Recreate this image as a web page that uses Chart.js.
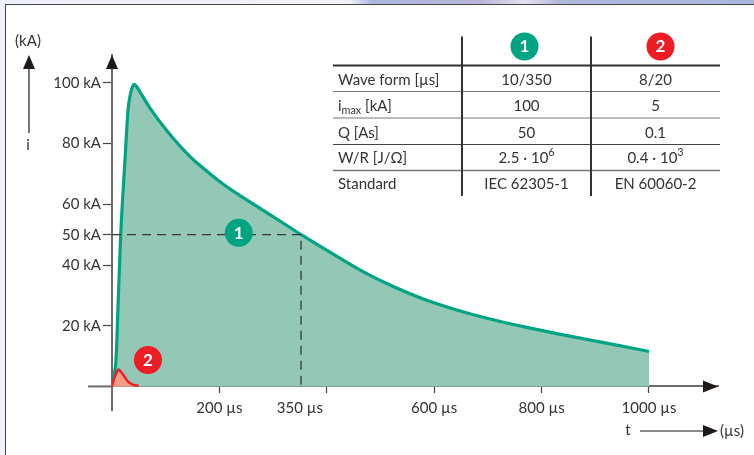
<!DOCTYPE html>
<html><head><meta charset="utf-8">
<script src="https://cdn.jsdelivr.net/npm/chart.js@4"></script>
<style>
html,body{margin:0;padding:0;width:754px;height:455px;overflow:hidden;background:#eef0fb}
#band{position:absolute;left:0;top:0;width:754px;height:5px;background:linear-gradient(to right,#eef0fb 0,#f1f1fa 350px,#aab6dc 372px,#b9b4da 480px,#e6e0f0 525px,#b0b8dc 560px,#a8b6dc 754px)}
#frame{position:absolute;left:5px;top:4px;width:749px;height:451px;background:#fff;border-left:1.5px solid #444;border-top:1.5px solid #444;box-sizing:border-box}
canvas{position:absolute;left:0;top:0}
</style></head>
<body><div id="band"></div><div id="frame"></div><canvas id="c" width="754" height="455"></canvas>
<script>
const waveform1X=[0,3.7,7.4,11.9,16.2,24.2,29.8,34.8,38.2,41.5,46.6,52.1,70.8,101.9,145.3,163.9,206.7,270,312.8,353,425,471,517.7,579.7,641.9,703.9,766,828,890,952,1000];
const waveform1Y=[0,3.8,8.7,29.8,49.9,74.6,91,96.7,98.8,99.5,98.6,97,91.7,84.3,75.7,72.8,66.7,59.3,54.5,49.9,42.2,37.5,33.4,28.8,25.2,22.2,19.7,17.4,15.3,13.2,11.5];
const waveform2X=[0,2.8,8.8,11.7,14.9,21,30.4,39.7,49.3];
const waveform2Y=[0,2.1,4.7,5.6,5.2,3.8,1.5,0.5,0.2];
const halfValueX=[0,352,352];
const halfValueY=[50,50,0];
const yTicks=[20,40,50,60,80,100];
const xTicks=[200,350,400,600,800,1000];
const xTickLabels={200:"200 µs",350:"350 µs",600:"600 µs",800:"800 µs",1000:"1000 µs"};
const badgeX=[236,67];
const badgeY=[50.6,8.7];
const badgeText=["1","2"];
const tableHead=["Wave form [µs]","i_{max} [kA]","Q [As]","W/R [J/Ω]","Standard"];
const tableCol1=["10/350","100","50","2.5 · 10^{6}","IEC 62305-1"];
const tableCol2=["8/20","5","0.1","0.4 · 10^{3}","EN 60060-2"];

const FONT='Lato, sans-serif', INK='#333333', GREEN='#00a482', RED='#ee1c25';
const toXY=(xs,ys)=>xs.map((x,i)=>({x,y:ys[i]}));

function runs(s){
  const out=[];const re=/([_^])\{([^}]*)\}/g;let m,last=0;
  while((m=re.exec(s))){ if(m.index>last) out.push([s.slice(last,m.index),0]); out.push([m[2],m[1]==='_'?1:-1]); last=re.lastIndex; }
  if(last<s.length) out.push([s.slice(last),0]);
  return out;
}
function rich(ctx,s,x,y,align,size){
  const r=runs(s);let w=0;
  r.forEach(([t,l])=>{ctx.font=(l?size*0.72:size)+'px '+FONT;w+=ctx.measureText(t).width;});
  let cx=align==='center'?x-w/2:x;
  ctx.textAlign='left';ctx.textBaseline='middle';
  r.forEach(([t,l])=>{ctx.font=(l?size*0.72:size)+'px '+FONT;ctx.fillText(t,cx,y+l*5);cx+=ctx.measureText(t).width;});
}
function tri(ctx,pts,c){ctx.fillStyle=c;ctx.beginPath();pts.forEach((p,i)=>i?ctx.lineTo(p[0],p[1]):ctx.moveTo(p[0],p[1]));ctx.closePath();ctx.fill();}
function line(ctx,x1,y1,x2,y2,c,w){ctx.strokeStyle=c;ctx.lineWidth=w;ctx.beginPath();ctx.moveTo(x1,y1);ctx.lineTo(x2,y2);ctx.stroke();}
function badge(ctx,x,y,t,c){
  ctx.fillStyle=c;ctx.beginPath();ctx.arc(x,y,14,0,Math.PI*2);ctx.fill();
  ctx.fillStyle='#fff';ctx.font='bold 17px '+FONT;ctx.textAlign='center';ctx.textBaseline='middle';ctx.fillText(t,x,y+0.5);
}
const overlay={id:'overlay',
 beforeDatasetsDraw(chart){
  const sy=chart.scales.y,sx=chart.scales.x;
  line(chart.ctx,88,sy.getPixelForValue(0),sx.left,sy.getPixelForValue(0),'#6b6b6b',2);
 },
 afterDraw(chart){
  const ctx=chart.ctx,sx=chart.scales.x,sy=chart.scales.y;
  ctx.save();
  const ax=sx.getPixelForValue(0),ay=sy.getPixelForValue(0),K='#1f1a17';
  tri(ctx,[[ax,sy.top],[ax-6,sy.top+14],[ax+6,sy.top+14]],K);
  tri(ctx,[[sx.right,ay],[sx.right-15,ay-6],[sx.right-15,ay+6]],K);
  line(ctx,29,133,29,68,K,1.2);tri(ctx,[[29,55],[23,69],[35,69]],K);
  line(ctx,640,431,705,431,K,1.2);tri(ctx,[[718,431],[703,425],[703,437]],K);
  ctx.fillStyle=INK;ctx.font='15px '+FONT;ctx.textAlign='center';ctx.textBaseline='middle';
  ctx.fillText('(kA)',28,41);ctx.fillText('i',28,145);ctx.fillText('t',628,430);
  ctx.fillText('(µs)',732,431);
  const m=chart.getDatasetMeta(0);
  m.data.forEach((pt,i)=>{ctx.fillStyle='#fff';ctx.font='bold 17px '+FONT;ctx.textAlign='center';ctx.textBaseline='middle';ctx.fillText(badgeText[i],pt.x,pt.y+0.5);});
  const rowY=[80,106,133,158,184];
  const colL=338,col1=526.5,col2=655.5;
  tableHead.forEach((t,i)=>{ctx.fillStyle=INK;rich(ctx,t,colL,rowY[i],'left',15);});
  tableCol1.forEach((t,i)=>{ctx.fillStyle=INK;rich(ctx,t,col1,rowY[i],'center',15);});
  tableCol2.forEach((t,i)=>{ctx.fillStyle=INK;rich(ctx,t,col2,rowY[i],'center',15);});
  line(ctx,333,65.5,720,65.5,'#333',2);
  line(ctx,333,91.5,720,91.5,'#777',1);
  line(ctx,333,118,720,118,'#777',1);
  line(ctx,333,144.5,720,144.5,'#444',1);
  line(ctx,333,170.5,720,170.5,'#777',1.3);
  line(ctx,462,36.5,462,196,'#333',2);
  line(ctx,591,36.5,591,196,'#333',2);
  badge(ctx,524.5,46.5,badgeText[0],GREEN);
  badge(ctx,660.5,46.5,badgeText[1],RED);
  ctx.restore();
}};
new Chart(document.getElementById('c'),{
  type:'scatter',
  data:{datasets:[
    {data:toXY(badgeX,badgeY),showLine:false,pointRadius:14,pointHoverRadius:14,pointBorderWidth:0,backgroundColor:[GREEN,RED],pointBackgroundColor:[GREEN,RED]},
    {data:toXY(halfValueX,halfValueY),showLine:true,pointRadius:0,borderColor:'#33383a',borderWidth:1.3,borderDash:[9,6],fill:false},
    {data:toXY(waveform2X,waveform2Y),showLine:true,pointRadius:0,borderColor:RED,borderWidth:2.5,backgroundColor:'#f79c80',fill:'origin',cubicInterpolationMode:'monotone'},
    {data:toXY(waveform1X,waveform1Y),showLine:true,pointRadius:0,borderColor:GREEN,borderWidth:3.2,backgroundColor:'#94c8b6',fill:'origin',cubicInterpolationMode:'monotone'}
  ]},
  options:{
    responsive:false,animation:false,devicePixelRatio:1,
    layout:{padding:{left:0,right:36,top:55,bottom:44.3}},
    plugins:{legend:{display:false},tooltip:{enabled:false}},
    scales:{
      x:{type:'linear',min:0,max:1128.5,position:{y:0},
        afterBuildTicks(a){a.ticks=xTicks.map(v=>({value:v}));},
        border:{color:'#6b6b6b',width:2},
        grid:{drawOnChartArea:false,drawTicks:true,tickLength:6,tickWidth:1.2,tickColor:c=>c.tick&&c.tick.value===350?'rgba(0,0,0,0)':'#444'},
        ticks:{autoSkip:false,maxRotation:0,padding:7,color:INK,font:{family:'Lato',size:15},callback:v=>xTickLabels[v]||''}},
      y:{type:'linear',min:-8,max:109.2,position:'left',
        afterBuildTicks(a){a.ticks=yTicks.map(v=>({value:v}));},
        afterFit(a){a.width=112;},
        border:{color:'#6b6b6b',width:2},
        grid:{drawOnChartArea:false,drawTicks:true,tickLength:9,tickWidth:1.2,tickColor:'#444'},
        ticks:{autoSkip:false,padding:2,color:INK,font:{family:'Lato',size:15},callback:v=>v+' kA'}}
    }
  },
  plugins:[overlay]
});
</script></body></html>
